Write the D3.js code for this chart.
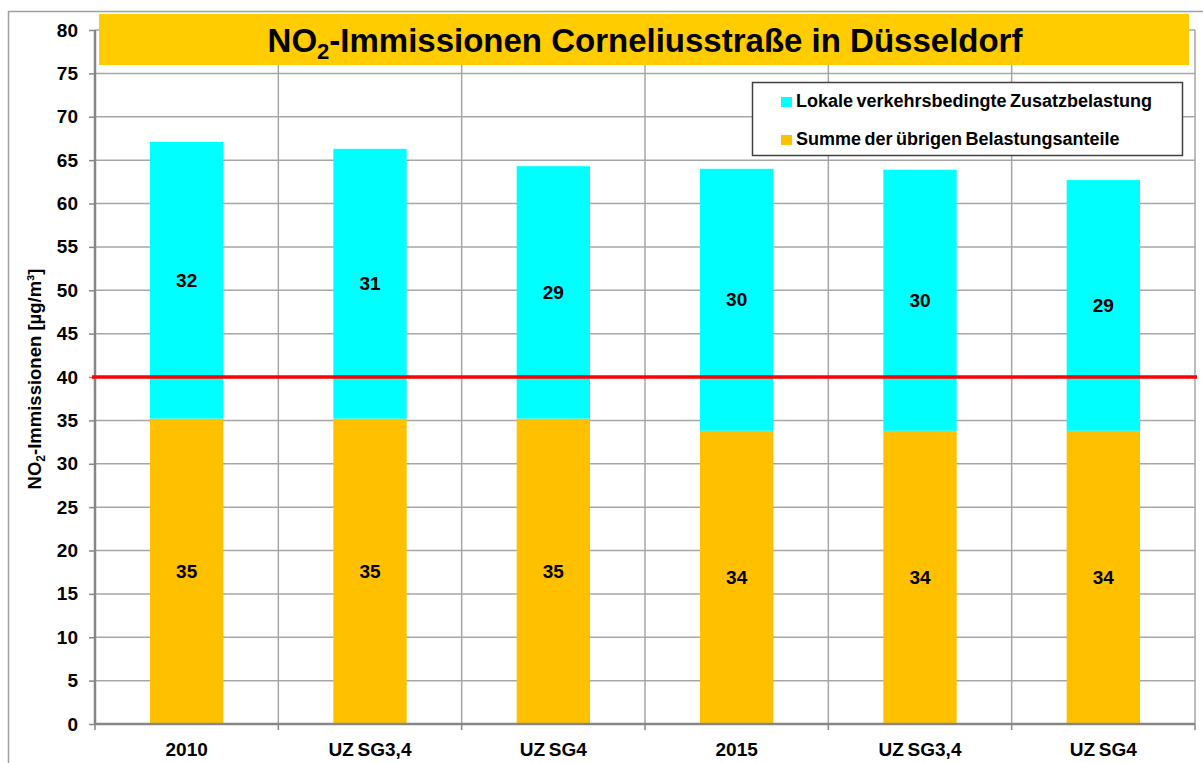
<!DOCTYPE html>
<html>
<head>
<meta charset="utf-8">
<script src="https://cdn.jsdelivr.net/npm/d3@7"></script>
<style>
  html, body { margin: 0; padding: 0; background: #fff; }
  svg { display: block; font-family: Arial, "Liberation Sans", Helvetica, sans-serif; }
</style>
</head>
<body>
<svg id="chart" width="1203" height="763"></svg>
<script>
const categories = ["2010", "UZ SG3,4", "UZ SG4", "2015", "UZ SG3,4", "UZ SG4"];
const base = [35.2, 35.2, 35.2, 33.8, 33.8, 33.8];      // Summe der übrigen Belastungsanteile
const local = [31.9, 31.1, 29.1, 30.2, 30.1, 28.9];     // Lokale verkehrsbedingte Zusatzbelastung
const seriesNames = ["Lokale verkehrsbedingte Zusatzbelastung", "Summe der übrigen Belastungsanteile"];
const yTicks = d3.range(0, 81, 5);
const limitValue = 40;

(function () {
const svg = d3.select("#chart");
const pLeft = 95, pRight = 1195, pTop = 30, pBottom = 724;

const y = d3.scaleLinear().domain([0, 80]).range([pBottom, pTop]);
const x = d3.scaleBand().domain(d3.range(categories.length)).range([pLeft, pRight])
  .paddingInner(0.6).paddingOuter(0.3);

const gridColor = "#a6a6a6", axisColor = "#868686";

// outer chart border
svg.append("rect").attr("x", 8.5).attr("y", 11.5).attr("width", 1220).attr("height", 800)
  .attr("fill", "none").attr("stroke", "#a0a0a0").attr("stroke-width", 1.5);

// horizontal gridlines
svg.append("g").selectAll("line").data(yTicks.filter(d => d > 0)).join("line")
  .attr("x1", pLeft).attr("x2", pRight).attr("y1", d => y(d)).attr("y2", d => y(d))
  .attr("stroke", gridColor).attr("stroke-width", 1.5);

// vertical gridlines at category boundaries
const step = x.step();
const boundaries = d3.range(categories.length + 1).map(i => pLeft + i * step);
svg.append("g").selectAll("line").data(boundaries.slice(1)).join("line")
  .attr("x1", d => d).attr("x2", d => d).attr("y1", pTop).attr("y2", pBottom)
  .attr("stroke", gridColor).attr("stroke-width", 1.5);

// bars
const g = svg.append("g");
g.selectAll(".base").data(base).join("rect")
  .attr("x", (d, i) => x(i)).attr("width", x.bandwidth())
  .attr("y", d => y(d)).attr("height", d => y(0) - y(d))
  .attr("fill", "#ffc000");
g.selectAll(".local").data(local).join("rect")
  .attr("x", (d, i) => x(i)).attr("width", x.bandwidth())
  .attr("y", (d, i) => y(base[i] + d)).attr("height", (d, i) => y(base[i]) - y(base[i] + d))
  .attr("fill", "#00ffff");

// value labels
const fmt = d3.format(".0f");
g.selectAll(".lb").data(base).join("text")
  .attr("x", (d, i) => x(i) + x.bandwidth() / 2).attr("y", d => y(d / 2))
  .attr("dy", "0.35em").attr("text-anchor", "middle")
  .attr("font-size", 19).attr("font-weight", "bold").text(d => fmt(d));
g.selectAll(".ll").data(local).join("text")
  .attr("x", (d, i) => x(i) + x.bandwidth() / 2).attr("y", (d, i) => y(base[i] + d / 2))
  .attr("dy", "0.35em").attr("text-anchor", "middle")
  .attr("font-size", 19).attr("font-weight", "bold").text(d => fmt(d));

// y axis
const yAxis = svg.append("g").attr("transform", `translate(${pLeft},0)`)
  .call(d3.axisLeft(y).tickValues(yTicks).tickSize(6).tickPadding(11));
yAxis.select(".domain").remove();
yAxis.selectAll(".tick line").attr("stroke", axisColor).attr("stroke-width", 1.5);
yAxis.selectAll(".tick text").attr("font-size", 19).attr("font-weight", "bold")
  .attr("font-family", "Arial, 'Liberation Sans', sans-serif").attr("fill", "#000");
svg.append("line").attr("x1", pLeft).attr("x2", pLeft).attr("y1", pTop).attr("y2", pBottom + 1)
  .attr("stroke", axisColor).attr("stroke-width", 2.5);

// x axis
svg.append("line").attr("x1", pLeft).attr("x2", pRight).attr("y1", pBottom).attr("y2", pBottom)
  .attr("stroke", axisColor).attr("stroke-width", 2.5);
svg.append("g").selectAll("line").data(boundaries).join("line")
  .attr("x1", d => d).attr("x2", d => d).attr("y1", pBottom).attr("y2", pBottom + 6)
  .attr("stroke", axisColor).attr("stroke-width", 1.5);
svg.append("g").selectAll("text").data(categories).join("text")
  .attr("x", (d, i) => x(i) + x.bandwidth() / 2).attr("y", 756)
  .attr("text-anchor", "middle").attr("font-size", 19).attr("font-weight", "bold")
  .attr("word-spacing", -1.5)
  .text(d => d);

// limit line
svg.append("line").attr("x1", 92).attr("x2", 1197).attr("y1", y(limitValue)).attr("y2", y(limitValue))
  .attr("stroke", "#ff0000").attr("stroke-width", 3.5);

// y axis title
const yt = svg.append("text").attr("transform", `translate(41,${379}) rotate(-90)`)
  .attr("text-anchor", "middle").attr("font-size", 18.5).attr("font-weight", "bold");
yt.append("tspan").text("NO");
yt.append("tspan").attr("font-size", 12).attr("dy", 4).text("2");
yt.append("tspan").attr("dy", -4).text("-Immissionen [µg/m³]");

// title box
svg.append("rect").attr("x", 99).attr("y", 14).attr("width", 1090).attr("height", 51).attr("fill", "#ffcc00");
const tt = svg.append("text").attr("x", 645).attr("y", 52).attr("text-anchor", "middle")
  .attr("font-size", 33).attr("font-weight", "bold");
tt.append("tspan").text("NO");
tt.append("tspan").attr("font-size", 22).attr("dy", 7).text("2");
tt.append("tspan").attr("dy", -7).text("-Immissionen Corneliusstraße in Düsseldorf");

// legend
const lg = svg.append("g");
lg.append("rect").attr("x", 752.5).attr("y", 82.5).attr("width", 430).attr("height", 73)
  .attr("fill", "#fff").attr("stroke", "#404040").attr("stroke-width", 1.5);
const legendColors = ["#00ffff", "#ffc000"];
seriesNames.forEach((name, i) => {
  const yy = 101 + i * 38;
  lg.append("rect").attr("x", 781).attr("y", yy - 4).attr("width", 11).attr("height", 10).attr("fill", legendColors[i]);
  lg.append("text").attr("x", 796).attr("y", yy + 6).attr("font-size", 18).attr("font-weight", "bold")
    .attr("word-spacing", -1.5).text(name);
});
})();
</script>
</body>
</html>
